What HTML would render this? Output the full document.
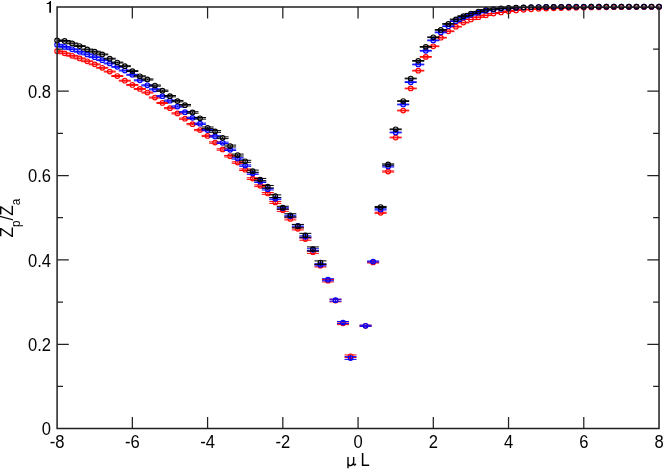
<!DOCTYPE html>
<html><head><meta charset="utf-8"><title>Zp/Za</title>
<style>html,body{margin:0;padding:0;background:#fff;}body{width:664px;height:470px;overflow:hidden;font-family:"Liberation Sans",sans-serif;}</style></head>
<body>
<svg width="664" height="470" viewBox="0 0 664 470" style="display:block">
<rect width="664" height="470" fill="#fff"/>
<defs><clipPath id="cp"><rect x="57.10" y="6.90" width="601.92" height="421.70"/></clipPath></defs>
<g stroke="#ff0000" fill="none" stroke-width="1">
<g clip-path="url(#cp)">
<path d="M51.10 50.80h12M51.10 51.60h12M57.10 50.80v0.80"/>
<path d="M58.62 52.94h12M58.62 53.75h12M64.62 52.94v0.81"/>
<path d="M66.15 55.37h12M66.15 56.19h12M72.15 55.37v0.82"/>
<path d="M73.67 58.02h12M73.67 58.85h12M79.67 58.02v0.83"/>
<path d="M81.20 60.86h12M81.20 61.70h12M87.20 60.86v0.84"/>
<path d="M88.72 63.95h12M88.72 64.80h12M94.72 63.95v0.85"/>
<path d="M96.24 67.37h12M96.24 68.23h12M102.24 67.37v0.86"/>
<path d="M103.77 71.14h12M103.77 72.01h12M109.77 71.14v0.87"/>
<path d="M111.29 75.60h12M111.29 76.48h12M117.29 75.60v0.88"/>
<path d="M118.82 80.25h12M118.82 81.14h12M124.82 80.25v0.89"/>
<path d="M126.34 84.48h12M126.34 85.38h12M132.34 84.48v0.90"/>
<path d="M133.86 88.45h12M133.86 89.39h12M139.86 88.45v0.94"/>
<path d="M141.39 92.06h12M141.39 93.04h12M147.39 92.06v0.98"/>
<path d="M148.91 97.07h12M148.91 98.08h12M154.91 97.07v1.01"/>
<path d="M156.44 102.41h12M156.44 103.46h12M162.44 102.41v1.05"/>
<path d="M163.96 107.65h12M163.96 108.74h12M169.96 107.65v1.09"/>
<path d="M171.48 112.83h12M171.48 113.95h12M177.48 112.83v1.12"/>
<path d="M179.01 118.08h12M179.01 119.25h12M185.01 118.08v1.16"/>
<path d="M186.53 123.56h12M186.53 124.76h12M192.53 123.56v1.20"/>
<path d="M194.06 129.45h12M194.06 130.69h12M200.06 129.45v1.24"/>
<path d="M201.58 135.33h12M201.58 136.62h12M207.58 135.33v1.29"/>
<path d="M209.10 141.89h12M209.10 143.22h12M215.10 141.89v1.33"/>
<path d="M216.63 148.79h12M216.63 150.16h12M222.63 148.79v1.37"/>
<path d="M224.15 155.52h12M224.15 156.94h12M230.15 155.52v1.41"/>
<path d="M231.68 161.83h12M231.68 163.29h12M237.68 161.83v1.46"/>
<path d="M239.20 168.99h12M239.20 170.49h12M245.20 168.99v1.50"/>
<path d="M246.72 177.80h12M246.72 179.39h12M252.72 177.80v1.59"/>
<path d="M254.25 184.93h12M254.25 186.61h12M260.25 184.93v1.68"/>
<path d="M261.77 192.57h12M261.77 194.34h12M267.77 192.57v1.77"/>
<path d="M269.30 201.55h12M269.30 203.41h12M275.30 201.55v1.86"/>
<path d="M276.82 209.40h12M276.82 211.35h12M282.82 209.40v1.95"/>
<path d="M284.34 217.88h12M284.34 219.92h12M290.34 217.88v2.04"/>
<path d="M291.87 227.79h12M291.87 229.92h12M297.87 227.79v2.13"/>
<path d="M299.39 238.00h12M299.39 240.22h12M305.39 238.00v2.22"/>
<path d="M306.92 251.04h12M306.92 253.35h12M312.92 251.04v2.31"/>
<path d="M314.44 264.54h12M314.44 266.94h12M320.44 264.54v2.40"/>
<path d="M321.96 279.50h12M321.96 281.95h12M327.96 279.50v2.45"/>
<path d="M329.49 299.31h12M329.49 301.81h12M335.49 299.31v2.50"/>
<path d="M337.01 322.07h12M337.01 324.62h12M343.01 322.07v2.55"/>
<path d="M344.54 354.96h12M344.54 357.56h12M350.54 354.96v2.60"/>
<path d="M359.58 325.20h12M359.58 326.30h12M365.58 325.20v1.10"/>
<path d="M367.11 261.90h12M367.11 263.00h12M373.11 261.90v1.10"/>
<path d="M374.63 212.23h12M374.63 213.33h12M380.63 212.23v1.10"/>
<path d="M382.16 170.96h12M382.16 172.06h12M388.16 170.96v1.10"/>
<path d="M389.68 137.15h12M389.68 137.85h12M395.68 137.15v0.70"/>
<path d="M397.20 110.18h12M397.20 110.88h12M403.20 110.18v0.70"/>
<path d="M404.73 88.11h12M404.73 88.81h12M410.73 88.11v0.70"/>
<path d="M412.25 70.30h12M412.25 71.00h12M418.25 70.30v0.70"/>
<path d="M419.78 56.54h12M419.78 57.24h12M425.78 56.54v0.70"/>
<path d="M427.30 45.95h12M427.30 46.65h12M433.30 45.95v0.70"/>
<path d="M434.82 37.34h12M434.82 38.04h12M440.82 37.34v0.70"/>
<path d="M442.35 30.93h12M442.35 31.63h12M448.35 30.93v0.70"/>
<path d="M449.87 26.33h12M449.87 27.03h12M455.87 26.33v0.70"/>
<path d="M457.40 22.23h12M457.40 22.93h12M463.40 22.23v0.70"/>
<path d="M464.92 19.27h12M464.92 19.57h12M470.92 19.27v0.30"/>
<path d="M472.44 17.03h12M472.44 17.33h12M478.44 17.03v0.30"/>
<path d="M479.97 15.13h12M479.97 15.43h12M485.97 15.13v0.30"/>
<path d="M487.49 13.55h12M487.49 13.55h12M493.49 13.55v0.00"/>
<path d="M495.02 12.50h12M495.02 12.50h12M501.02 12.50v0.00"/>
<path d="M502.54 11.27h12M502.54 11.27h12M508.54 11.27v0.00"/>
<path d="M510.06 10.39h12M510.06 10.39h12M516.06 10.39v0.00"/>
<path d="M517.59 9.76h12M517.59 9.76h12M523.59 9.76v0.00"/>
<path d="M525.11 9.29h12M525.11 9.29h12M531.11 9.29v0.00"/>
<path d="M532.64 8.83h12M532.64 8.83h12M538.64 8.83v0.00"/>
<path d="M540.16 8.54h12M540.16 8.54h12M546.16 8.54v0.00"/>
<path d="M547.68 8.28h12M547.68 8.28h12M553.68 8.28v0.00"/>
<path d="M555.21 8.05h12M555.21 8.05h12M561.21 8.05v0.00"/>
<path d="M562.73 7.86h12M562.73 7.86h12M568.73 7.86v0.00"/>
<path d="M570.26 7.70h12M570.26 7.70h12M576.26 7.70v0.00"/>
<path d="M577.78 7.57h12M577.78 7.57h12M583.78 7.57v0.00"/>
<path d="M585.30 7.45h12M585.30 7.45h12M591.30 7.45v0.00"/>
<path d="M592.83 7.35h12M592.83 7.35h12M598.83 7.35v0.00"/>
<path d="M600.35 7.27h12M600.35 7.27h12M606.35 7.27v0.00"/>
<path d="M607.88 7.20h12M607.88 7.20h12M613.88 7.20v0.00"/>
<path d="M615.40 7.14h12M615.40 7.14h12M621.40 7.14v0.00"/>
<path d="M622.92 7.09h12M622.92 7.09h12M628.92 7.09v0.00"/>
<path d="M630.45 7.04h12M630.45 7.04h12M636.45 7.04v0.00"/>
<path d="M637.97 7.01h12M637.97 7.01h12M643.97 7.01v0.00"/>
<path d="M645.50 6.97h12M645.50 6.97h12M651.50 6.97v0.00"/>
<path d="M653.02 6.95h12M653.02 6.95h12M659.02 6.95v0.00"/>
</g>
<circle cx="57.10" cy="51.20" r="2.3" stroke-width="1.15"/>
<circle cx="64.62" cy="53.35" r="2.3" stroke-width="1.15"/>
<circle cx="72.15" cy="55.78" r="2.3" stroke-width="1.15"/>
<circle cx="79.67" cy="58.43" r="2.3" stroke-width="1.15"/>
<circle cx="87.20" cy="61.28" r="2.3" stroke-width="1.15"/>
<circle cx="94.72" cy="64.37" r="2.3" stroke-width="1.15"/>
<circle cx="102.24" cy="67.80" r="2.3" stroke-width="1.15"/>
<circle cx="109.77" cy="71.58" r="2.3" stroke-width="1.15"/>
<circle cx="117.29" cy="76.04" r="2.3" stroke-width="1.15"/>
<circle cx="124.82" cy="80.69" r="2.3" stroke-width="1.15"/>
<circle cx="132.34" cy="84.93" r="2.3" stroke-width="1.15"/>
<circle cx="139.86" cy="88.92" r="2.3" stroke-width="1.15"/>
<circle cx="147.39" cy="92.55" r="2.3" stroke-width="1.15"/>
<circle cx="154.91" cy="97.57" r="2.3" stroke-width="1.15"/>
<circle cx="162.44" cy="102.93" r="2.3" stroke-width="1.15"/>
<circle cx="169.96" cy="108.19" r="2.3" stroke-width="1.15"/>
<circle cx="177.48" cy="113.39" r="2.3" stroke-width="1.15"/>
<circle cx="185.01" cy="118.67" r="2.3" stroke-width="1.15"/>
<circle cx="192.53" cy="124.16" r="2.3" stroke-width="1.15"/>
<circle cx="200.06" cy="130.07" r="2.3" stroke-width="1.15"/>
<circle cx="207.58" cy="135.98" r="2.3" stroke-width="1.15"/>
<circle cx="215.10" cy="142.55" r="2.3" stroke-width="1.15"/>
<circle cx="222.63" cy="149.48" r="2.3" stroke-width="1.15"/>
<circle cx="230.15" cy="156.23" r="2.3" stroke-width="1.15"/>
<circle cx="237.68" cy="162.56" r="2.3" stroke-width="1.15"/>
<circle cx="245.20" cy="169.74" r="2.3" stroke-width="1.15"/>
<circle cx="252.72" cy="178.60" r="2.3" stroke-width="1.15"/>
<circle cx="260.25" cy="185.77" r="2.3" stroke-width="1.15"/>
<circle cx="267.77" cy="193.45" r="2.3" stroke-width="1.15"/>
<circle cx="275.30" cy="202.48" r="2.3" stroke-width="1.15"/>
<circle cx="282.82" cy="210.37" r="2.3" stroke-width="1.15"/>
<circle cx="290.34" cy="218.90" r="2.3" stroke-width="1.15"/>
<circle cx="297.87" cy="228.86" r="2.3" stroke-width="1.15"/>
<circle cx="305.39" cy="239.11" r="2.3" stroke-width="1.15"/>
<circle cx="312.92" cy="252.19" r="2.3" stroke-width="1.15"/>
<circle cx="320.44" cy="265.74" r="2.3" stroke-width="1.15"/>
<circle cx="327.96" cy="280.72" r="2.3" stroke-width="1.15"/>
<circle cx="335.49" cy="300.56" r="2.3" stroke-width="1.15"/>
<circle cx="343.01" cy="323.34" r="2.3" stroke-width="1.15"/>
<circle cx="350.54" cy="356.26" r="2.3" stroke-width="1.15"/>
<circle cx="365.58" cy="325.75" r="2.3" stroke-width="1.15"/>
<circle cx="373.11" cy="262.45" r="2.3" stroke-width="1.15"/>
<circle cx="380.63" cy="212.78" r="2.3" stroke-width="1.15"/>
<circle cx="388.16" cy="171.51" r="2.3" stroke-width="1.15"/>
<circle cx="395.68" cy="137.50" r="2.3" stroke-width="1.15"/>
<circle cx="403.20" cy="110.53" r="2.3" stroke-width="1.15"/>
<circle cx="410.73" cy="88.46" r="2.3" stroke-width="1.15"/>
<circle cx="418.25" cy="70.65" r="2.3" stroke-width="1.15"/>
<circle cx="425.78" cy="56.89" r="2.3" stroke-width="1.15"/>
<circle cx="433.30" cy="46.30" r="2.3" stroke-width="1.15"/>
<circle cx="440.82" cy="37.69" r="2.3" stroke-width="1.15"/>
<circle cx="448.35" cy="31.28" r="2.3" stroke-width="1.15"/>
<circle cx="455.87" cy="26.68" r="2.3" stroke-width="1.15"/>
<circle cx="463.40" cy="22.58" r="2.3" stroke-width="1.15"/>
<circle cx="470.92" cy="19.42" r="2.3" stroke-width="1.15"/>
<circle cx="478.44" cy="17.18" r="2.3" stroke-width="1.15"/>
<circle cx="485.97" cy="15.28" r="2.3" stroke-width="1.15"/>
<circle cx="493.49" cy="13.55" r="2.3" stroke-width="1.15"/>
<circle cx="501.02" cy="12.50" r="2.3" stroke-width="1.15"/>
<circle cx="508.54" cy="11.27" r="2.3" stroke-width="1.15"/>
<circle cx="516.06" cy="10.39" r="2.3" stroke-width="1.15"/>
<circle cx="523.59" cy="9.76" r="2.3" stroke-width="1.15"/>
<circle cx="531.11" cy="9.29" r="2.3" stroke-width="1.15"/>
<circle cx="538.64" cy="8.83" r="2.3" stroke-width="1.15"/>
<circle cx="546.16" cy="8.54" r="2.3" stroke-width="1.15"/>
<circle cx="553.68" cy="8.28" r="2.3" stroke-width="1.15"/>
<circle cx="561.21" cy="8.05" r="2.3" stroke-width="1.15"/>
<circle cx="568.73" cy="7.86" r="2.3" stroke-width="1.15"/>
<circle cx="576.26" cy="7.70" r="2.3" stroke-width="1.15"/>
<circle cx="583.78" cy="7.57" r="2.3" stroke-width="1.15"/>
<circle cx="591.30" cy="7.45" r="2.3" stroke-width="1.15"/>
<circle cx="598.83" cy="7.35" r="2.3" stroke-width="1.15"/>
<circle cx="606.35" cy="7.27" r="2.3" stroke-width="1.15"/>
<circle cx="613.88" cy="7.20" r="2.3" stroke-width="1.15"/>
<circle cx="621.40" cy="7.14" r="2.3" stroke-width="1.15"/>
<circle cx="628.92" cy="7.09" r="2.3" stroke-width="1.15"/>
<circle cx="636.45" cy="7.04" r="2.3" stroke-width="1.15"/>
<circle cx="643.97" cy="7.01" r="2.3" stroke-width="1.15"/>
<circle cx="651.50" cy="6.97" r="2.3" stroke-width="1.15"/>
<circle cx="659.02" cy="6.95" r="2.3" stroke-width="1.15"/>
</g>
<g stroke="#0000ff" fill="none" stroke-width="1">
<g clip-path="url(#cp)">
<path d="M51.10 44.30h12M51.10 45.10h12M57.10 44.30v0.80"/>
<path d="M58.62 46.48h12M58.62 47.29h12M64.62 46.48v0.81"/>
<path d="M66.15 48.84h12M66.15 49.66h12M72.15 48.84v0.82"/>
<path d="M73.67 51.35h12M73.67 52.18h12M79.67 51.35v0.83"/>
<path d="M81.20 53.98h12M81.20 54.82h12M87.20 53.98v0.84"/>
<path d="M88.72 56.77h12M88.72 57.62h12M94.72 56.77v0.85"/>
<path d="M96.24 59.77h12M96.24 60.63h12M102.24 59.77v0.86"/>
<path d="M103.77 63.00h12M103.77 63.87h12M109.77 63.00v0.87"/>
<path d="M111.29 66.39h12M111.29 67.27h12M117.29 66.39v0.88"/>
<path d="M118.82 70.07h12M118.82 70.96h12M124.82 70.07v0.89"/>
<path d="M126.34 74.34h12M126.34 75.24h12M132.34 74.34v0.90"/>
<path d="M133.86 79.89h12M133.86 80.83h12M139.86 79.89v0.94"/>
<path d="M141.39 84.85h12M141.39 85.82h12M147.39 84.85v0.98"/>
<path d="M148.91 88.88h12M148.91 89.89h12M154.91 88.88v1.01"/>
<path d="M156.44 95.66h12M156.44 96.71h12M162.44 95.66v1.05"/>
<path d="M163.96 100.11h12M163.96 101.20h12M169.96 100.11v1.09"/>
<path d="M171.48 105.96h12M171.48 107.08h12M177.48 105.96v1.12"/>
<path d="M179.01 111.62h12M179.01 112.78h12M185.01 111.62v1.16"/>
<path d="M186.53 117.27h12M186.53 118.47h12M192.53 117.27v1.20"/>
<path d="M194.06 123.12h12M194.06 124.35h12M200.06 123.12v1.23"/>
<path d="M201.58 129.44h12M201.58 130.70h12M207.58 129.44v1.26"/>
<path d="M209.10 135.76h12M209.10 137.04h12M215.10 135.76v1.29"/>
<path d="M216.63 142.14h12M216.63 143.45h12M222.63 142.14v1.31"/>
<path d="M224.15 149.10h12M224.15 150.45h12M230.15 149.10v1.34"/>
<path d="M231.68 157.74h12M231.68 159.11h12M237.68 157.74v1.37"/>
<path d="M239.20 164.90h12M239.20 166.30h12M245.20 164.90v1.40"/>
<path d="M246.72 172.89h12M246.72 174.35h12M252.72 172.89v1.46"/>
<path d="M254.25 180.96h12M254.25 182.48h12M260.25 180.96v1.52"/>
<path d="M261.77 188.40h12M261.77 189.98h12M267.77 188.40v1.58"/>
<path d="M269.30 198.03h12M269.30 199.67h12M275.30 198.03v1.64"/>
<path d="M276.82 207.29h12M276.82 208.99h12M282.82 207.29v1.70"/>
<path d="M284.34 215.28h12M284.34 217.04h12M290.34 215.28v1.76"/>
<path d="M291.87 224.91h12M291.87 226.73h12M297.87 224.91v1.82"/>
<path d="M299.39 235.89h12M299.39 237.77h12M305.39 235.89v1.88"/>
<path d="M306.92 248.78h12M306.92 250.72h12M312.92 248.78v1.94"/>
<path d="M314.44 263.81h12M314.44 265.81h12M320.44 263.81v2.00"/>
<path d="M321.96 278.71h12M321.96 280.71h12M327.96 278.71v2.00"/>
<path d="M329.49 299.13h12M329.49 301.13h12M335.49 299.13v2.00"/>
<path d="M337.01 321.58h12M337.01 323.58h12M343.01 321.58v2.00"/>
<path d="M344.54 356.68h12M344.54 359.38h12M350.54 356.68v2.70"/>
<path d="M359.58 325.20h12M359.58 326.30h12M365.58 325.20v1.10"/>
<path d="M367.11 260.97h12M367.11 262.07h12M373.11 260.97v1.10"/>
<path d="M374.63 208.85h12M374.63 209.95h12M380.63 208.85v1.10"/>
<path d="M382.16 165.89h12M382.16 166.99h12M388.16 165.89v1.10"/>
<path d="M389.68 132.12h12M389.68 132.82h12M395.68 132.12v0.70"/>
<path d="M397.20 104.14h12M397.20 104.84h12M403.20 104.14v0.70"/>
<path d="M404.73 81.78h12M404.73 82.48h12M410.73 81.78v0.70"/>
<path d="M412.25 64.14h12M412.25 64.84h12M418.25 64.14v0.70"/>
<path d="M419.78 50.42h12M419.78 51.12h12M425.78 50.42v0.70"/>
<path d="M427.30 40.04h12M427.30 40.74h12M433.30 40.04v0.70"/>
<path d="M434.82 32.02h12M434.82 32.73h12M440.82 32.02v0.70"/>
<path d="M442.35 25.86h12M442.35 26.56h12M448.35 25.86v0.70"/>
<path d="M449.87 20.84h12M449.87 21.54h12M455.87 20.84v0.70"/>
<path d="M457.40 17.25h12M457.40 17.95h12M463.40 17.25v0.70"/>
<path d="M464.92 14.71h12M464.92 15.01h12M470.92 14.71v0.30"/>
<path d="M472.44 12.52h12M472.44 12.82h12M478.44 12.52v0.30"/>
<path d="M479.97 10.49h12M479.97 10.79h12M485.97 10.49v0.30"/>
<path d="M487.49 9.63h12M487.49 9.63h12M493.49 9.63v0.00"/>
<path d="M495.02 8.85h12M495.02 8.85h12M501.02 8.85v0.00"/>
<path d="M502.54 8.27h12M502.54 8.27h12M508.54 8.27v0.00"/>
<path d="M510.06 7.84h12M510.06 7.84h12M516.06 7.84v0.00"/>
<path d="M517.59 7.51h12M517.59 7.51h12M523.59 7.51v0.00"/>
<path d="M525.11 7.27h12M525.11 7.27h12M531.11 7.27v0.00"/>
<path d="M532.64 7.09h12M532.64 7.09h12M538.64 7.09v0.00"/>
<path d="M540.16 6.95h12M540.16 6.95h12M546.16 6.95v0.00"/>
<path d="M547.68 6.85h12M547.68 6.85h12M553.68 6.85v0.00"/>
<path d="M555.21 6.78h12M555.21 6.78h12M561.21 6.78v0.00"/>
<path d="M562.73 6.72h12M562.73 6.72h12M568.73 6.72v0.00"/>
<path d="M570.26 6.68h12M570.26 6.68h12M576.26 6.68v0.00"/>
<path d="M577.78 6.64h12M577.78 6.64h12M583.78 6.64v0.00"/>
<path d="M585.30 6.62h12M585.30 6.62h12M591.30 6.62v0.00"/>
<path d="M592.83 6.60h12M592.83 6.60h12M598.83 6.60v0.00"/>
<path d="M600.35 6.59h12M600.35 6.59h12M606.35 6.59v0.00"/>
<path d="M607.88 6.58h12M607.88 6.58h12M613.88 6.58v0.00"/>
<path d="M615.40 6.57h12M615.40 6.57h12M621.40 6.57v0.00"/>
<path d="M622.92 6.57h12M622.92 6.57h12M628.92 6.57v0.00"/>
<path d="M630.45 6.56h12M630.45 6.56h12M636.45 6.56v0.00"/>
<path d="M637.97 6.56h12M637.97 6.56h12M643.97 6.56v0.00"/>
<path d="M645.50 6.56h12M645.50 6.56h12M651.50 6.56v0.00"/>
<path d="M653.02 6.56h12M653.02 6.56h12M659.02 6.56v0.00"/>
</g>
<circle cx="57.10" cy="44.70" r="2.3" stroke-width="1.15"/>
<circle cx="64.62" cy="46.88" r="2.3" stroke-width="1.15"/>
<circle cx="72.15" cy="49.25" r="2.3" stroke-width="1.15"/>
<circle cx="79.67" cy="51.76" r="2.3" stroke-width="1.15"/>
<circle cx="87.20" cy="54.40" r="2.3" stroke-width="1.15"/>
<circle cx="94.72" cy="57.20" r="2.3" stroke-width="1.15"/>
<circle cx="102.24" cy="60.20" r="2.3" stroke-width="1.15"/>
<circle cx="109.77" cy="63.43" r="2.3" stroke-width="1.15"/>
<circle cx="117.29" cy="66.83" r="2.3" stroke-width="1.15"/>
<circle cx="124.82" cy="70.52" r="2.3" stroke-width="1.15"/>
<circle cx="132.34" cy="74.79" r="2.3" stroke-width="1.15"/>
<circle cx="139.86" cy="80.36" r="2.3" stroke-width="1.15"/>
<circle cx="147.39" cy="85.34" r="2.3" stroke-width="1.15"/>
<circle cx="154.91" cy="89.39" r="2.3" stroke-width="1.15"/>
<circle cx="162.44" cy="96.18" r="2.3" stroke-width="1.15"/>
<circle cx="169.96" cy="100.65" r="2.3" stroke-width="1.15"/>
<circle cx="177.48" cy="106.52" r="2.3" stroke-width="1.15"/>
<circle cx="185.01" cy="112.20" r="2.3" stroke-width="1.15"/>
<circle cx="192.53" cy="117.87" r="2.3" stroke-width="1.15"/>
<circle cx="200.06" cy="123.74" r="2.3" stroke-width="1.15"/>
<circle cx="207.58" cy="130.07" r="2.3" stroke-width="1.15"/>
<circle cx="215.10" cy="136.40" r="2.3" stroke-width="1.15"/>
<circle cx="222.63" cy="142.79" r="2.3" stroke-width="1.15"/>
<circle cx="230.15" cy="149.78" r="2.3" stroke-width="1.15"/>
<circle cx="237.68" cy="158.43" r="2.3" stroke-width="1.15"/>
<circle cx="245.20" cy="165.60" r="2.3" stroke-width="1.15"/>
<circle cx="252.72" cy="173.62" r="2.3" stroke-width="1.15"/>
<circle cx="260.25" cy="181.72" r="2.3" stroke-width="1.15"/>
<circle cx="267.77" cy="189.19" r="2.3" stroke-width="1.15"/>
<circle cx="275.30" cy="198.85" r="2.3" stroke-width="1.15"/>
<circle cx="282.82" cy="208.14" r="2.3" stroke-width="1.15"/>
<circle cx="290.34" cy="216.16" r="2.3" stroke-width="1.15"/>
<circle cx="297.87" cy="225.82" r="2.3" stroke-width="1.15"/>
<circle cx="305.39" cy="236.83" r="2.3" stroke-width="1.15"/>
<circle cx="312.92" cy="249.75" r="2.3" stroke-width="1.15"/>
<circle cx="320.44" cy="264.81" r="2.3" stroke-width="1.15"/>
<circle cx="327.96" cy="279.71" r="2.3" stroke-width="1.15"/>
<circle cx="335.49" cy="300.13" r="2.3" stroke-width="1.15"/>
<circle cx="343.01" cy="322.58" r="2.3" stroke-width="1.15"/>
<circle cx="350.54" cy="358.03" r="2.3" stroke-width="1.15"/>
<circle cx="365.58" cy="325.75" r="2.3" stroke-width="1.15"/>
<circle cx="373.11" cy="261.52" r="2.3" stroke-width="1.15"/>
<circle cx="380.63" cy="209.40" r="2.3" stroke-width="1.15"/>
<circle cx="388.16" cy="166.44" r="2.3" stroke-width="1.15"/>
<circle cx="395.68" cy="132.47" r="2.3" stroke-width="1.15"/>
<circle cx="403.20" cy="104.49" r="2.3" stroke-width="1.15"/>
<circle cx="410.73" cy="82.13" r="2.3" stroke-width="1.15"/>
<circle cx="418.25" cy="64.49" r="2.3" stroke-width="1.15"/>
<circle cx="425.78" cy="50.77" r="2.3" stroke-width="1.15"/>
<circle cx="433.30" cy="40.39" r="2.3" stroke-width="1.15"/>
<circle cx="440.82" cy="32.38" r="2.3" stroke-width="1.15"/>
<circle cx="448.35" cy="26.21" r="2.3" stroke-width="1.15"/>
<circle cx="455.87" cy="21.19" r="2.3" stroke-width="1.15"/>
<circle cx="463.40" cy="17.60" r="2.3" stroke-width="1.15"/>
<circle cx="470.92" cy="14.86" r="2.3" stroke-width="1.15"/>
<circle cx="478.44" cy="12.67" r="2.3" stroke-width="1.15"/>
<circle cx="485.97" cy="10.64" r="2.3" stroke-width="1.15"/>
<circle cx="493.49" cy="9.63" r="2.3" stroke-width="1.15"/>
<circle cx="501.02" cy="8.85" r="2.3" stroke-width="1.15"/>
<circle cx="508.54" cy="8.27" r="2.3" stroke-width="1.15"/>
<circle cx="516.06" cy="7.84" r="2.3" stroke-width="1.15"/>
<circle cx="523.59" cy="7.51" r="2.3" stroke-width="1.15"/>
<circle cx="531.11" cy="7.27" r="2.3" stroke-width="1.15"/>
<circle cx="538.64" cy="7.09" r="2.3" stroke-width="1.15"/>
<circle cx="546.16" cy="6.95" r="2.3" stroke-width="1.15"/>
<circle cx="553.68" cy="6.85" r="2.3" stroke-width="1.15"/>
<circle cx="561.21" cy="6.78" r="2.3" stroke-width="1.15"/>
<circle cx="568.73" cy="6.72" r="2.3" stroke-width="1.15"/>
<circle cx="576.26" cy="6.68" r="2.3" stroke-width="1.15"/>
<circle cx="583.78" cy="6.64" r="2.3" stroke-width="1.15"/>
<circle cx="591.30" cy="6.62" r="2.3" stroke-width="1.15"/>
<circle cx="598.83" cy="6.60" r="2.3" stroke-width="1.15"/>
<circle cx="606.35" cy="6.59" r="2.3" stroke-width="1.15"/>
<circle cx="613.88" cy="6.58" r="2.3" stroke-width="1.15"/>
<circle cx="621.40" cy="6.57" r="2.3" stroke-width="1.15"/>
<circle cx="628.92" cy="6.57" r="2.3" stroke-width="1.15"/>
<circle cx="636.45" cy="6.56" r="2.3" stroke-width="1.15"/>
<circle cx="643.97" cy="6.56" r="2.3" stroke-width="1.15"/>
<circle cx="651.50" cy="6.56" r="2.3" stroke-width="1.15"/>
<circle cx="659.02" cy="6.56" r="2.3" stroke-width="1.15"/>
</g>
<g stroke="#000000" fill="none" stroke-width="1">
<g clip-path="url(#cp)">
<path d="M51.10 39.99h12M51.10 40.79h12M57.10 39.99v0.80"/>
<path d="M58.62 40.49h12M58.62 41.30h12M64.62 40.49v0.81"/>
<path d="M66.15 43.02h12M66.15 43.84h12M72.15 43.02v0.82"/>
<path d="M73.67 45.67h12M73.67 46.50h12M79.67 45.67v0.83"/>
<path d="M81.20 49.05h12M81.20 49.89h12M87.20 49.05v0.84"/>
<path d="M88.72 51.28h12M88.72 52.13h12M94.72 51.28v0.85"/>
<path d="M96.24 53.97h12M96.24 54.83h12M102.24 53.97v0.86"/>
<path d="M103.77 58.23h12M103.77 59.10h12M109.77 58.23v0.87"/>
<path d="M111.29 62.11h12M111.29 62.99h12M117.29 62.11v0.88"/>
<path d="M118.82 65.73h12M118.82 66.62h12M124.82 65.73v0.89"/>
<path d="M126.34 70.66h12M126.34 71.56h12M132.34 70.66v0.90"/>
<path d="M133.86 75.82h12M133.86 76.79h12M139.86 75.82v0.98"/>
<path d="M141.39 78.95h12M141.39 80.00h12M147.39 78.95v1.05"/>
<path d="M148.91 85.03h12M148.91 86.15h12M154.91 85.03v1.12"/>
<path d="M156.44 90.14h12M156.44 91.34h12M162.44 90.14v1.20"/>
<path d="M163.96 95.54h12M163.96 96.82h12M169.96 95.54v1.28"/>
<path d="M171.48 100.44h12M171.48 101.79h12M177.48 100.44v1.35"/>
<path d="M179.01 104.46h12M179.01 105.88h12M185.01 104.46v1.43"/>
<path d="M186.53 111.72h12M186.53 113.22h12M192.53 111.72v1.50"/>
<path d="M194.06 117.55h12M194.06 119.12h12M200.06 117.55v1.57"/>
<path d="M201.58 127.01h12M201.58 128.65h12M207.58 127.01v1.64"/>
<path d="M209.10 130.60h12M209.10 132.32h12M215.10 130.60v1.71"/>
<path d="M216.63 136.86h12M216.63 138.64h12M222.63 136.86v1.79"/>
<path d="M224.15 145.09h12M224.15 146.95h12M230.15 145.09v1.86"/>
<path d="M231.68 154.09h12M231.68 156.01h12M237.68 154.09v1.93"/>
<path d="M239.20 160.30h12M239.20 162.30h12M245.20 160.30v2.00"/>
<path d="M246.72 170.09h12M246.72 172.25h12M252.72 170.09v2.16"/>
<path d="M254.25 178.45h12M254.25 180.77h12M260.25 178.45v2.32"/>
<path d="M261.77 185.46h12M261.77 187.94h12M267.77 185.46v2.48"/>
<path d="M269.30 194.88h12M269.30 197.52h12M275.30 194.88v2.64"/>
<path d="M276.82 206.23h12M276.82 209.03h12M282.82 206.23v2.80"/>
<path d="M284.34 213.74h12M284.34 216.89h12M290.34 213.74v3.15"/>
<path d="M291.87 224.41h12M291.87 227.91h12M297.87 224.41v3.50"/>
<path d="M299.39 233.35h12M299.39 237.20h12M305.39 233.35v3.85"/>
<path d="M306.92 246.93h12M306.92 251.13h12M312.92 246.93v4.20"/>
<path d="M314.44 260.88h12M314.44 264.28h12M320.44 260.88v3.40"/>
<path d="M374.63 206.45h12M374.63 207.55h12M380.63 206.45v1.10"/>
<path d="M382.16 163.91h12M382.16 165.01h12M388.16 163.91v1.10"/>
<path d="M389.68 128.96h12M389.68 129.66h12M395.68 128.96v0.70"/>
<path d="M397.20 100.73h12M397.20 101.43h12M403.20 100.73v0.70"/>
<path d="M404.73 78.15h12M404.73 78.85h12M410.73 78.15v0.70"/>
<path d="M412.25 60.51h12M412.25 61.21h12M418.25 60.51v0.70"/>
<path d="M419.78 46.54h12M419.78 47.24h12M425.78 46.54v0.70"/>
<path d="M427.30 36.92h12M427.30 37.62h12M433.30 36.92v0.70"/>
<path d="M434.82 29.58h12M434.82 30.28h12M440.82 29.58v0.70"/>
<path d="M442.35 23.59h12M442.35 24.29h12M448.35 23.59v0.70"/>
<path d="M449.87 19.07h12M449.87 19.77h12M455.87 19.07v0.70"/>
<path d="M457.40 15.78h12M457.40 16.48h12M463.40 15.78v0.70"/>
<path d="M464.92 13.40h12M464.92 13.70h12M470.92 13.40v0.30"/>
<path d="M472.44 11.42h12M472.44 11.72h12M478.44 11.42v0.30"/>
<path d="M479.97 9.61h12M479.97 9.91h12M485.97 9.61v0.30"/>
<path d="M487.49 9.00h12M487.49 9.00h12M493.49 9.00v0.00"/>
<path d="M495.02 8.32h12M495.02 8.32h12M501.02 8.32v0.00"/>
<path d="M502.54 7.94h12M502.54 7.94h12M508.54 7.94v0.00"/>
<path d="M510.06 7.63h12M510.06 7.63h12M516.06 7.63v0.00"/>
<path d="M517.59 7.39h12M517.59 7.39h12M523.59 7.39v0.00"/>
<path d="M525.11 7.21h12M525.11 7.21h12M531.11 7.21v0.00"/>
<path d="M532.64 7.08h12M532.64 7.08h12M538.64 7.08v0.00"/>
<path d="M540.16 6.98h12M540.16 6.98h12M546.16 6.98v0.00"/>
<path d="M547.68 6.91h12M547.68 6.91h12M553.68 6.91v0.00"/>
<path d="M555.21 6.85h12M555.21 6.85h12M561.21 6.85v0.00"/>
<path d="M562.73 6.81h12M562.73 6.81h12M568.73 6.81v0.00"/>
<path d="M570.26 6.78h12M570.26 6.78h12M576.26 6.78v0.00"/>
<path d="M577.78 6.76h12M577.78 6.76h12M583.78 6.76v0.00"/>
<path d="M585.30 6.75h12M585.30 6.75h12M591.30 6.75v0.00"/>
<path d="M592.83 6.73h12M592.83 6.73h12M598.83 6.73v0.00"/>
<path d="M600.35 6.73h12M600.35 6.73h12M606.35 6.73v0.00"/>
<path d="M607.88 6.72h12M607.88 6.72h12M613.88 6.72v0.00"/>
<path d="M615.40 6.71h12M615.40 6.71h12M621.40 6.71v0.00"/>
<path d="M622.92 6.71h12M622.92 6.71h12M628.92 6.71v0.00"/>
<path d="M630.45 6.71h12M630.45 6.71h12M636.45 6.71v0.00"/>
<path d="M637.97 6.71h12M637.97 6.71h12M643.97 6.71v0.00"/>
<path d="M645.50 6.70h12M645.50 6.70h12M651.50 6.70v0.00"/>
<path d="M653.02 6.70h12M653.02 6.70h12M659.02 6.70v0.00"/>
</g>
<circle cx="57.10" cy="40.39" r="2.3" stroke-width="1.15"/>
<circle cx="64.62" cy="40.90" r="2.3" stroke-width="1.15"/>
<circle cx="72.15" cy="43.43" r="2.3" stroke-width="1.15"/>
<circle cx="79.67" cy="46.09" r="2.3" stroke-width="1.15"/>
<circle cx="87.20" cy="49.47" r="2.3" stroke-width="1.15"/>
<circle cx="94.72" cy="51.70" r="2.3" stroke-width="1.15"/>
<circle cx="102.24" cy="54.40" r="2.3" stroke-width="1.15"/>
<circle cx="109.77" cy="58.67" r="2.3" stroke-width="1.15"/>
<circle cx="117.29" cy="62.55" r="2.3" stroke-width="1.15"/>
<circle cx="124.82" cy="66.18" r="2.3" stroke-width="1.15"/>
<circle cx="132.34" cy="71.11" r="2.3" stroke-width="1.15"/>
<circle cx="139.86" cy="76.31" r="2.3" stroke-width="1.15"/>
<circle cx="147.39" cy="79.47" r="2.3" stroke-width="1.15"/>
<circle cx="154.91" cy="85.59" r="2.3" stroke-width="1.15"/>
<circle cx="162.44" cy="90.74" r="2.3" stroke-width="1.15"/>
<circle cx="169.96" cy="96.18" r="2.3" stroke-width="1.15"/>
<circle cx="177.48" cy="101.12" r="2.3" stroke-width="1.15"/>
<circle cx="185.01" cy="105.17" r="2.3" stroke-width="1.15"/>
<circle cx="192.53" cy="112.47" r="2.3" stroke-width="1.15"/>
<circle cx="200.06" cy="118.34" r="2.3" stroke-width="1.15"/>
<circle cx="207.58" cy="127.83" r="2.3" stroke-width="1.15"/>
<circle cx="215.10" cy="131.46" r="2.3" stroke-width="1.15"/>
<circle cx="222.63" cy="137.75" r="2.3" stroke-width="1.15"/>
<circle cx="230.15" cy="146.02" r="2.3" stroke-width="1.15"/>
<circle cx="237.68" cy="155.05" r="2.3" stroke-width="1.15"/>
<circle cx="245.20" cy="161.30" r="2.3" stroke-width="1.15"/>
<circle cx="252.72" cy="171.17" r="2.3" stroke-width="1.15"/>
<circle cx="260.25" cy="179.61" r="2.3" stroke-width="1.15"/>
<circle cx="267.77" cy="186.70" r="2.3" stroke-width="1.15"/>
<circle cx="275.30" cy="196.20" r="2.3" stroke-width="1.15"/>
<circle cx="282.82" cy="207.63" r="2.3" stroke-width="1.15"/>
<circle cx="290.34" cy="215.31" r="2.3" stroke-width="1.15"/>
<circle cx="297.87" cy="226.16" r="2.3" stroke-width="1.15"/>
<circle cx="305.39" cy="235.27" r="2.3" stroke-width="1.15"/>
<circle cx="312.92" cy="249.03" r="2.3" stroke-width="1.15"/>
<circle cx="320.44" cy="262.58" r="2.3" stroke-width="1.15"/>
<circle cx="380.63" cy="207.00" r="2.3" stroke-width="1.15"/>
<circle cx="388.16" cy="164.46" r="2.3" stroke-width="1.15"/>
<circle cx="395.68" cy="129.31" r="2.3" stroke-width="1.15"/>
<circle cx="403.20" cy="101.08" r="2.3" stroke-width="1.15"/>
<circle cx="410.73" cy="78.50" r="2.3" stroke-width="1.15"/>
<circle cx="418.25" cy="60.86" r="2.3" stroke-width="1.15"/>
<circle cx="425.78" cy="46.89" r="2.3" stroke-width="1.15"/>
<circle cx="433.30" cy="37.27" r="2.3" stroke-width="1.15"/>
<circle cx="440.82" cy="29.93" r="2.3" stroke-width="1.15"/>
<circle cx="448.35" cy="23.94" r="2.3" stroke-width="1.15"/>
<circle cx="455.87" cy="19.42" r="2.3" stroke-width="1.15"/>
<circle cx="463.40" cy="16.13" r="2.3" stroke-width="1.15"/>
<circle cx="470.92" cy="13.55" r="2.3" stroke-width="1.15"/>
<circle cx="478.44" cy="11.57" r="2.3" stroke-width="1.15"/>
<circle cx="485.97" cy="9.76" r="2.3" stroke-width="1.15"/>
<circle cx="493.49" cy="9.00" r="2.3" stroke-width="1.15"/>
<circle cx="501.02" cy="8.32" r="2.3" stroke-width="1.15"/>
<circle cx="508.54" cy="7.94" r="2.3" stroke-width="1.15"/>
<circle cx="516.06" cy="7.63" r="2.3" stroke-width="1.15"/>
<circle cx="523.59" cy="7.39" r="2.3" stroke-width="1.15"/>
<circle cx="531.11" cy="7.21" r="2.3" stroke-width="1.15"/>
<circle cx="538.64" cy="7.08" r="2.3" stroke-width="1.15"/>
<circle cx="546.16" cy="6.98" r="2.3" stroke-width="1.15"/>
<circle cx="553.68" cy="6.91" r="2.3" stroke-width="1.15"/>
<circle cx="561.21" cy="6.85" r="2.3" stroke-width="1.15"/>
<circle cx="568.73" cy="6.81" r="2.3" stroke-width="1.15"/>
<circle cx="576.26" cy="6.78" r="2.3" stroke-width="1.15"/>
<circle cx="583.78" cy="6.76" r="2.3" stroke-width="1.15"/>
<circle cx="591.30" cy="6.75" r="2.3" stroke-width="1.15"/>
<circle cx="598.83" cy="6.73" r="2.3" stroke-width="1.15"/>
<circle cx="606.35" cy="6.73" r="2.3" stroke-width="1.15"/>
<circle cx="613.88" cy="6.72" r="2.3" stroke-width="1.15"/>
<circle cx="621.40" cy="6.71" r="2.3" stroke-width="1.15"/>
<circle cx="628.92" cy="6.71" r="2.3" stroke-width="1.15"/>
<circle cx="636.45" cy="6.71" r="2.3" stroke-width="1.15"/>
<circle cx="643.97" cy="6.71" r="2.3" stroke-width="1.15"/>
<circle cx="651.50" cy="6.70" r="2.3" stroke-width="1.15"/>
<circle cx="659.02" cy="6.70" r="2.3" stroke-width="1.15"/>
</g>
<path d="M57.10 6.90H659.02V428.60H57.10Z" stroke="#202020" stroke-width="1.5" fill="none" stroke-linejoin="miter"/>
<path d="M132.34 428.60v-11.7M132.34 6.90v11.7M207.58 428.60v-11.7M207.58 6.90v11.7M282.82 428.60v-11.7M282.82 6.90v11.7M358.06 428.60v-11.7M358.06 6.90v11.7M433.30 428.60v-11.7M433.30 6.90v11.7M508.54 428.60v-11.7M508.54 6.90v11.7M583.78 428.60v-11.7M583.78 6.90v11.7M57.10 386.43h5.9M659.02 386.43h-5.9M57.10 344.25h11.7M659.02 344.25h-11.7M57.10 302.08h5.9M659.02 302.08h-5.9M57.10 259.90h11.7M659.02 259.90h-11.7M57.10 217.73h5.9M659.02 217.73h-5.9M57.10 175.55h11.7M659.02 175.55h-11.7M57.10 133.38h5.9M659.02 133.38h-5.9M57.10 91.20h11.7M659.02 91.20h-11.7M57.10 49.03h5.9M659.02 49.03h-5.9" stroke="#222" stroke-width="1.25" fill="none"/>
<g font-family="Liberation Sans, sans-serif" font-size="18.2" fill="#000" opacity="0.999">
<text transform="translate(57.10 447.7) scale(0.913 1)" text-anchor="middle">-8</text>
<text transform="translate(132.34 447.7) scale(0.913 1)" text-anchor="middle">-6</text>
<text transform="translate(207.58 447.7) scale(0.913 1)" text-anchor="middle">-4</text>
<text transform="translate(282.82 447.7) scale(0.913 1)" text-anchor="middle">-2</text>
<text transform="translate(358.06 447.7) scale(0.913 1)" text-anchor="middle">0</text>
<text transform="translate(433.30 447.7) scale(0.913 1)" text-anchor="middle">2</text>
<text transform="translate(508.54 447.7) scale(0.913 1)" text-anchor="middle">4</text>
<text transform="translate(583.78 447.7) scale(0.913 1)" text-anchor="middle">6</text>
<text transform="translate(659.02 447.7) scale(0.913 1)" text-anchor="middle">8</text>
<text transform="translate(51.0 435.40) scale(0.913 1)" text-anchor="end">0</text>
<text transform="translate(51.0 351.05) scale(0.913 1)" text-anchor="end">0.2</text>
<text transform="translate(51.0 266.70) scale(0.913 1)" text-anchor="end">0.4</text>
<text transform="translate(51.0 182.35) scale(0.913 1)" text-anchor="end">0.6</text>
<text transform="translate(51.0 98.00) scale(0.913 1)" text-anchor="end">0.8</text>
<text transform="translate(360.58 465.6) scale(0.913 1)">L</text>
<path d="M348 457V468.3M348 462.8C348 466.6 352.6 466.6 353.65 462.3M353.65 457V463.6C353.65 465.7 355.1 465.5 355.75 463.7" stroke="#000" stroke-width="1.4" fill="none"/>
<path d="M49.3 12.65V4.1H46.7V3C48.3 2.9 49.5 2.2 50.1 0.9H51V12.65Z" fill="#000" stroke="none"/>
<text transform="translate(12.6 237.4) rotate(-90) scale(0.937 1)">Z<tspan font-size="12.6" dy="7.6">p</tspan><tspan dy="-7.6">/Z</tspan><tspan font-size="12.6" dy="7.6">a</tspan></text>
</g>
</svg>
</body></html>
